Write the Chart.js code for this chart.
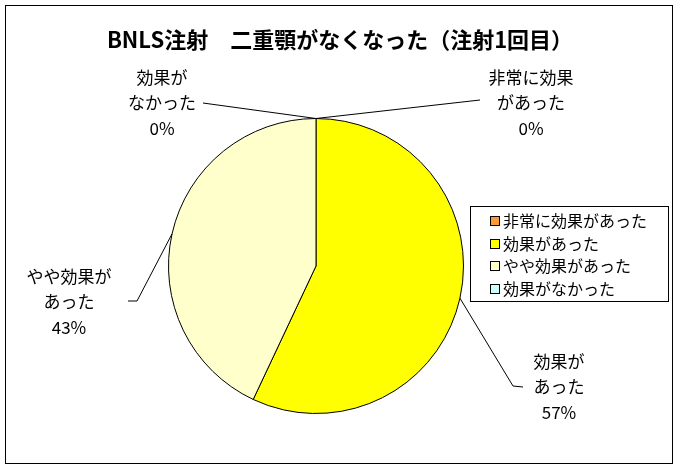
<!DOCTYPE html>
<html><head><meta charset="utf-8">
<script src="https://cdn.jsdelivr.net/npm/chart.js@4/dist/chart.umd.min.js"></script>
<style>html,body{margin:0;padding:0;background:#fff;} canvas{display:block}</style>
</head><body>
<canvas id="c" width="680" height="472"></canvas>
<script>
// ---- data ----
const titleText = 'BNLS注射　二重顎がなくなった（注射1回目）';
const categories = ['非常に効果があった', '効果があった', 'やや効果があった', '効果がなかった'];
const labelLines = [['非常に効果', 'があった'], ['効果が', 'あった'], ['やや効果が', 'あった'], ['効果が', 'なかった']];
const percentValues = [0, 57, 43, 0];

// ---- styles ----
const sliceColors = ['#FF9933', '#FFFF00', '#FFFFCC', '#CCFFFF'];
const FONT = '"Noto Sans CJK JP", "Noto Sans", sans-serif';
// label placement relative to pie centre
const labelLayout = [
  {dx: 215, dy: -163, end: [164, -166]},
  {dx: 243, dy: 121, elbow: [197, 120], end: [207, 121]},
  {dx: -247, dy: 36, elbow: [-179, 35], end: [-188, 35]},
  {dx: -154, dy: -163, end: [-113, -163]}
];

const decorPlugin = {
  id: 'decor',
  afterDraw(chart) {
    const ctx = chart.ctx;
    ctx.save();
    // frame
    ctx.strokeStyle = '#000';
    ctx.lineWidth = 1;
    ctx.strokeRect(5.5, 5.5, 667, 458);
    // title
    ctx.fillStyle = '#000';
    ctx.font = 'bold 22px ' + FONT;
    ctx.textAlign = 'center';
    ctx.textBaseline = 'middle';
    ctx.fillText(titleText, 340, 40);

    // data labels with leader lines
    const meta = chart.getDatasetMeta(0);
    const data = chart.data.datasets[0].data;
    const total = data.reduce((a, b) => a + b, 0);
    const first = meta.data[0].getProps(['x', 'y']);
    const cx = first.x, cy = first.y;
    ctx.font = '17px ' + FONT;
    meta.data.forEach((arc, i) => {
      const p = arc.getProps(['x', 'y', 'startAngle', 'endAngle', 'outerRadius']);
      const mid = (p.startAngle + p.endAngle) / 2;
      const ax = p.x + Math.cos(mid) * p.outerRadius;
      const ay = p.y + Math.sin(mid) * p.outerRadius;
      const L = labelLayout[i];
      ctx.beginPath();
      ctx.strokeStyle = '#000';
      ctx.lineWidth = 1;
      ctx.moveTo(ax, ay);
      if (L.elbow) ctx.lineTo(cx + L.elbow[0], cy + L.elbow[1]);
      ctx.lineTo(cx + L.end[0], cy + L.end[1]);
      ctx.stroke();
      const lines = labelLines[i].concat([Math.round(data[i] / total * 100) + '%']);
      const lx = cx + L.dx, ly = cy + L.dy;
      ctx.fillStyle = '#000';
      ctx.textAlign = 'center';
      ctx.textBaseline = 'middle';
      lines.forEach((t, k) => ctx.fillText(t, lx, ly + (k - 1) * 25.5));
    });

    // legend
    const lx0 = 470.5, ly0 = 206.5, lw = 198, lh = 95;
    ctx.fillStyle = '#fff';
    ctx.fillRect(lx0, ly0, lw, lh);
    ctx.strokeStyle = '#000';
    ctx.strokeRect(lx0, ly0, lw, lh);
    ctx.font = '16px ' + FONT;
    ctx.textAlign = 'left';
    ctx.textBaseline = 'middle';
    chart.data.labels.forEach((lab, i) => {
      const yc = 221 + i * 22.5;
      ctx.fillStyle = chart.data.datasets[0].backgroundColor[i];
      ctx.fillRect(491, Math.round(yc - 4), 8, 8);
      ctx.strokeStyle = '#000';
      ctx.strokeRect(490.5, Math.round(yc - 4) - 0.5, 9, 9);
      ctx.fillStyle = '#000';
      ctx.fillText(lab, 503, yc);
    });
    ctx.restore();
  }
};

new Chart(document.getElementById('c'), {
  type: 'pie',
  data: {
    labels: categories,
    datasets: [{
      data: percentValues,
      backgroundColor: sliceColors,
      borderColor: '#000',
      borderWidth: 1
    }]
  },
  options: {
    responsive: false,
    devicePixelRatio: 1,
    animation: false,
    layout: {padding: {left: 168, right: 216, top: 118, bottom: 58}},
    plugins: {
      legend: {display: false},
      title: {display: false},
      tooltip: {enabled: false}
    }
  },
  plugins: [decorPlugin]
});
</script>
</body></html>
